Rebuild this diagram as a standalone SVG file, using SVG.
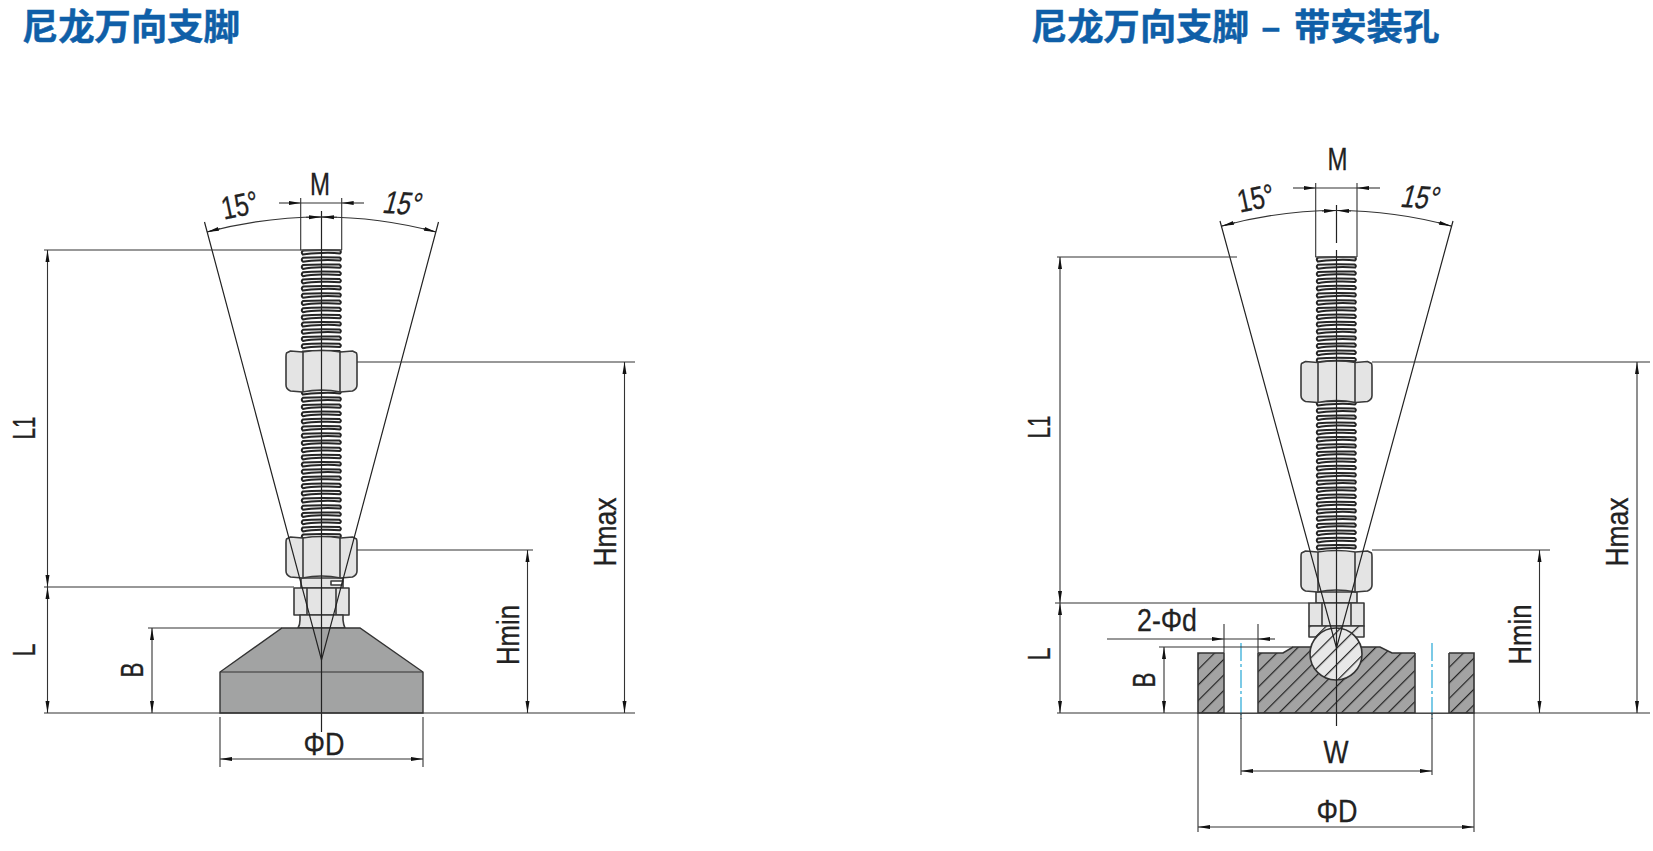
<svg xmlns="http://www.w3.org/2000/svg" xmlns:xlink="http://www.w3.org/1999/xlink" width="1653" height="851" viewBox="0 0 1653 851">
<style>
.t{font-family:"Noto Sans CJK SC","Liberation Sans",sans-serif;font-weight:700;font-size:36.300px;fill:#0f5fa8;stroke:#0f5fa8;stroke-width:.5}
.d{font-family:"Liberation Sans",Arial,sans-serif;font-size:32px;fill:#222;stroke:#222;stroke-width:.3;text-anchor:middle}
.l{fill:none;stroke:#333;stroke-width:1.1}
.a{fill:none;stroke:#333;stroke-width:1.1;marker-end:url(#ar)}
.o{stroke:#3a3a3a;stroke-width:1.6;fill:#e4e4e4;stroke-linejoin:round}
.c{fill:none;stroke:#222;stroke-width:1.2}
.th{fill:#f4f4f4;stroke:#262626;stroke-width:2}
</style>
<defs>
<marker id="ar" markerUnits="userSpaceOnUse" markerWidth="14" markerHeight="6" refX="12" refY="3" orient="auto"><path d="M0,1 L12,3 L0,5z" fill="#111"/></marker>
<path id="r" class="th" d="M2.500,1.600 C12,.8 30,1 39,1.200 Q41.500,2.800 39.500,4.400 C30,3.400 12,3.800 2.500,5.600 Q0,3.600 2.500,1.600z"/>
<g id="r5">
<use xlink:href="#r" href="#r"/>
<use xlink:href="#r" href="#r" y="7.200"/>
<use xlink:href="#r" href="#r" y="14.400"/>
<use xlink:href="#r" href="#r" y="21.600"/>
<use xlink:href="#r" href="#r" y="28.800"/>
</g>
<pattern id="hb" patternUnits="userSpaceOnUse" width="11" height="11" patternTransform="rotate(45)"><rect width="11" height="11" fill="#a3a3a3"/><rect x="0" width="1.200" height="11" fill="#222"/></pattern>
<pattern id="hs" patternUnits="userSpaceOnUse" width="11.500" height="11.500" patternTransform="rotate(45)"><rect width="11.500" height="11.500" fill="#e8e8e8"/><rect x="0" width="1.200" height="11.500" fill="#222"/></pattern>
<g id="nut">
<path class="o" d="M-31,0 L-35,2 Q-35.500,3 -35.500,6 V34 Q-35.500,38 -31,40 L-19,41 Q0,37 19,41 L31,40 Q35.500,38 35.500,34 V6 Q35.500,3 35,2 L31,0 L19,1 Q0,-2 -19,1z"/>
<path class="o" fill="none" d="M-18.500,1 V41 M18.500,1 V41"/>
</g>
</defs>

<g id="titles">
<text class="t" x="22" y="40">尼龙万向支脚</text>
<text class="t" x="1031" y="40">尼龙万向支脚</text>
<text class="t" x="1261" y="40">–</text>
<text class="t" x="1294" y="40">带安装孔</text>
</g>

<g id="left-foot">
<g transform="translate(300.500,249)">
<use xlink:href="#r5" href="#r5"/><use xlink:href="#r5" href="#r5" y="36"/><use xlink:href="#r5" href="#r5" y="72"/>
<use xlink:href="#r5" href="#r5" y="140"/><use xlink:href="#r5" href="#r5" y="176"/><use xlink:href="#r5" href="#r5" y="212"/><use xlink:href="#r5" href="#r5" y="248"/>
<use xlink:href="#r" href="#r" y="284"/>
</g>
<path d="M300.500,250 H342" stroke="#555" stroke-width="1.500"/>
<use xlink:href="#nut" href="#nut" x="321.500" y="351"/>
<path class="o" d="M301,578 H343 V588 H301z"/>
<path class="o" d="M331,581 H343 L342,585 H331z" style="fill:#fff"/>
<rect class="o" x="294" y="588" width="55" height="27"/>
<path class="o" d="M307,588 V615 M336,588 V615"/>
<path class="o" d="M300,615 H343 V620 Q343.500,625 345,628 H298 Q300,625 300,620z"/>
<path d="M282,628 H360 L423,672 V713 H220 V672z" fill="#a2a3a3" stroke="#333" stroke-width="1.400"/>
<path class="l" d="M220,672 H423"/>
<use xlink:href="#nut" href="#nut" x="321.500" y="537"/>
</g>

<g id="right-foot">
<g transform="translate(1315.500,256)">
<use xlink:href="#r5" href="#r5"/><use xlink:href="#r5" href="#r5" y="36"/><use xlink:href="#r5" href="#r5" y="72"/>
<use xlink:href="#r5" href="#r5" y="144"/><use xlink:href="#r5" href="#r5" y="180"/><use xlink:href="#r5" href="#r5" y="216"/><use xlink:href="#r5" href="#r5" y="252"/>
<use xlink:href="#r" href="#r" y="288"/>
</g>
<path d="M1315.500,257 H1357" stroke="#555" stroke-width="1.500"/>
<use xlink:href="#nut" href="#nut" x="1336.500" y="361.500"/>
<path class="o" d="M1316,592 H1357 V603 H1316z"/>
<rect class="o" x="1309" y="603" width="55" height="23"/>
<path class="o" d="M1322,603 V626 M1351,603 V626"/>
<path class="o" d="M1309,626 H1364 V637 H1309z" style="fill:url(#hs)"/>
<path d="M1198,653 H1283 L1293,647 H1380 L1392,653 H1474 V713 H1198z" fill="url(#hb)" stroke="#333" stroke-width="1.600"/>
<rect x="1224" y="651" width="34" height="62" fill="#fff"/>
<rect x="1415" y="651" width="34" height="62" fill="#fff"/>
<path d="M1224,653 H1258 M1415,653 H1449" fill="none" stroke="#fff" stroke-width="3"/>
<path class="o" d="M1224,653 V713 M1258,653 V713 M1415,653 V713 M1449,653 V713"/>
<circle cx="1336" cy="654" r="26" fill="url(#hs)" stroke="#333" stroke-width="1.600"/>
<path d="M1241,643 V719 M1432,643 V719" fill="none" stroke="#45b4dc" stroke-width="1.400" stroke-dasharray="18,3,3,3"/>
<use xlink:href="#nut" href="#nut" x="1336.500" y="551"/>
</g>

<g id="connectors">
<path class="c" d="M321.500,211 V732"/>
<path class="c" d="M204.500,222 L321.500,660 L438.500,222"/>
<path class="l" d="M321.500,217 A443,443 0 0 0 207,232"/>
<path class="l" d="M321.500,217 A443,443 0 0 1 436,232"/>
<path class="a" d="M220,228.500 L207,232"/>
<path class="a" d="M423,228.500 L436,232"/>
<path class="a" d="M306,217.300 L321,217"/>
<path class="a" d="M337,217.300 L322,217"/>
<path class="l" d="M300.700,198 V250 M341.700,198 V250"/>
<path class="a" d="M279,203 H300.700"/><path class="a" d="M364,203 H341.700"/><path class="l" d="M300.700,203 H341.700"/>
<path class="l" d="M44,250 H301 M44,587 H294 M148,628 H282 M44,713 H635 M357,362 H635 M357,550 H533"/>
<path class="a" d="M47.500,400 V250"/><path class="a" d="M47.500,400 V587"/>
<path class="a" d="M47.500,650 V587"/><path class="a" d="M47.500,650 V713"/>
<path class="a" d="M152,670 V628"/><path class="a" d="M152,670 V713"/>
<path class="a" d="M527.500,630 V550"/><path class="a" d="M527.500,630 V713"/>
<path class="a" d="M624.500,540 V362"/><path class="a" d="M624.500,540 V713"/>
<path class="l" d="M220,717 V767 M423,717 V767"/>
<path class="a" d="M321,759 H220"/><path class="a" d="M321,759 H423"/>

<path class="c" d="M1336.500,205 V243 M1336.500,250 V726"/>
<path class="c" d="M1220,221 L1336.500,648 L1453,221"/>
<path class="l" d="M1336.500,210.500 A438,438 0 0 0 1222,226"/>
<path class="l" d="M1336.500,210.500 A438,438 0 0 1 1451,226"/>
<path class="a" d="M1235,222.500 L1222,226"/>
<path class="a" d="M1438,222.500 L1451,226"/>
<path class="a" d="M1322,211 L1336,210.500"/>
<path class="a" d="M1351,211 L1337,210.500"/>
<path class="l" d="M1315.700,183 V257 M1357,183 V257"/>
<path class="a" d="M1293,188 H1315.700"/><path class="a" d="M1380,188 H1357"/><path class="l" d="M1315.700,188 H1357"/>
<path class="l" d="M1057,257 H1237 M1055,603 H1309 M1159,647 H1293 M1057,713 H1650 M1372,362 H1650 M1372,550 H1550"/>
<path class="a" d="M1060,400 V257"/><path class="a" d="M1060,400 V603"/>
<path class="a" d="M1060,660 V603"/><path class="a" d="M1060,660 V713"/>
<path class="a" d="M1164,680 V647"/><path class="a" d="M1164,680 V713"/>
<path class="a" d="M1539.500,630 V550"/><path class="a" d="M1539.500,630 V713"/>
<path class="a" d="M1637,540 V362"/><path class="a" d="M1637,540 V713"/>
<path class="l" d="M1224,624 V653 M1258,624 V653"/>
<path class="a" d="M1107,639 H1224"/><path class="a" d="M1275,639 H1258"/><path class="l" d="M1224,639 H1258"/>
<path class="l" d="M1241,713 V775 M1432,713 V775 M1198,713 V832 M1474,713 V832"/>
<path class="a" d="M1336,771 H1241"/><path class="a" d="M1336,771 H1432"/>
<path class="a" d="M1336,827 H1198"/><path class="a" d="M1336,827 H1474"/>
</g>

<g id="labels">
<text class="d" x="320" y="195" textLength="20" lengthAdjust="spacingAndGlyphs">M</text>
<text class="d" transform="translate(242,216) rotate(-12)" textLength="37" lengthAdjust="spacingAndGlyphs">15°</text>
<text class="d" transform="translate(400,214) rotate(4) skewX(-12)" textLength="37" lengthAdjust="spacingAndGlyphs">15°</text>
<text class="d" transform="translate(35,428) rotate(-90)" textLength="23" lengthAdjust="spacingAndGlyphs">L1</text>
<text class="d" transform="translate(35,650) rotate(-90)" textLength="13" lengthAdjust="spacingAndGlyphs">L</text>
<text class="d" transform="translate(143,670) rotate(-90)" textLength="15" lengthAdjust="spacingAndGlyphs">B</text>
<text class="d" transform="translate(519,635) rotate(-90)" textLength="60" lengthAdjust="spacingAndGlyphs">Hmin</text>
<text class="d" transform="translate(616,532) rotate(-90)" textLength="69" lengthAdjust="spacingAndGlyphs">Hmax</text>
<text class="d" x="324" y="755" textLength="41" lengthAdjust="spacingAndGlyphs">ΦD</text>

<text class="d" x="1337.500" y="170" textLength="20" lengthAdjust="spacingAndGlyphs">M</text>
<text class="d" transform="translate(1258,209) rotate(-12)" textLength="37" lengthAdjust="spacingAndGlyphs">15°</text>
<text class="d" transform="translate(1418,208) rotate(4) skewX(-12)" textLength="37" lengthAdjust="spacingAndGlyphs">15°</text>
<text class="d" transform="translate(1049.500,427) rotate(-90)" textLength="23" lengthAdjust="spacingAndGlyphs">L1</text>
<text class="d" transform="translate(1049.500,654) rotate(-90)" textLength="13" lengthAdjust="spacingAndGlyphs">L</text>
<text class="d" transform="translate(1155,680) rotate(-90)" textLength="15" lengthAdjust="spacingAndGlyphs">B</text>
<text class="d" transform="translate(1531,634.500) rotate(-90)" textLength="60" lengthAdjust="spacingAndGlyphs">Hmin</text>
<text class="d" transform="translate(1628,532) rotate(-90)" textLength="69" lengthAdjust="spacingAndGlyphs">Hmax</text>
<text class="d" x="1167" y="631" textLength="60" lengthAdjust="spacingAndGlyphs">2-Φd</text>
<text class="d" x="1336" y="763" textLength="25" lengthAdjust="spacingAndGlyphs">W</text>
<text class="d" x="1337" y="822" textLength="41" lengthAdjust="spacingAndGlyphs">ΦD</text>
</g>
</svg>
